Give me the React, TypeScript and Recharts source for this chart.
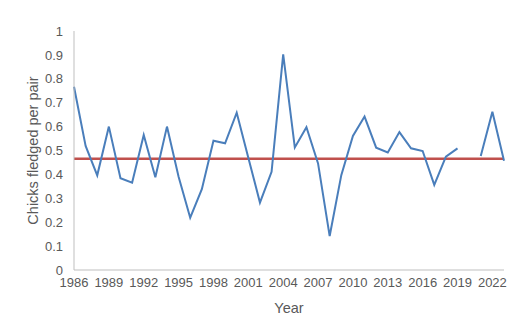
import React from "react";
import { LineChart, Line, XAxis, YAxis, ReferenceLine } from "recharts";

const years = [
  1986, 1987, 1988, 1989, 1990, 1991, 1992, 1993, 1994, 1995, 1996, 1997, 1998,
  1999, 2000, 2001, 2002, 2003, 2004, 2005, 2006, 2007, 2008, 2009, 2010, 2011,
  2012, 2013, 2014, 2015, 2016, 2017, 2018, 2019, 2020, 2021, 2022, 2023,
];
const chicksPerPair: (number | null)[] = [
  0.767, 0.519, 0.396, 0.6, 0.384, 0.365, 0.565, 0.388, 0.6, 0.39, 0.219, 0.338,
  0.541, 0.53, 0.658, 0.47, 0.282, 0.411, 0.902, 0.513, 0.597, 0.446, 0.142,
  0.397, 0.561, 0.642, 0.512, 0.492, 0.577, 0.509, 0.498, 0.356, 0.474, 0.509,
  null, 0.477, 0.662, 0.457,
];
const meanValue = 0.466;
const xTicks = [1986, 1989, 1992, 1995, 1998, 2001, 2004, 2007, 2010, 2013, 2016, 2019, 2022];
const yTicks = [0, 0.1, 0.2, 0.3, 0.4, 0.5, 0.6, 0.7, 0.8, 0.9, 1];

const data = years.map((y, i) => ({ year: y, value: chicksPerPair[i] }));

const font = "'Liberation Sans', Arial, sans-serif";

export default function App() {
  return (
    <div style={{ position: "absolute", left: 0, top: 0, width: 529, height: 324, background: "#fff" }}>
      <LineChart
        width={529}
        height={324}
        data={data}
        margin={{ top: 31, right: 25, bottom: 0, left: 0 }}
      >
        <XAxis
          dataKey="year"
          type="number"
          domain={[1986, 2023]}
          ticks={xTicks}
          interval={0}
          tickLine={false}
          axisLine={{ stroke: "#BFBFBF" }}
          height={54}
          tick={{ fill: "#595959", fontSize: 13, fontFamily: font }}
          tickMargin={2}
          label={{ value: "Year", position: "insideBottom", offset: 11, fill: "#595959", fontSize: 14.5, fontFamily: font }}
        />
        <YAxis
          type="number"
          domain={[0, 1]}
          ticks={yTicks}
          interval={0}
          tickLine={false}
          axisLine={{ stroke: "#BFBFBF" }}
          width={74}
          tick={{ fill: "#595959", fontSize: 13, fontFamily: font }}
          tickMargin={5}
          label={{ value: "Chicks fledged per pair", angle: -90, position: "insideLeft", offset: 33, fill: "#595959", fontSize: 14.5, fontFamily: font, style: { textAnchor: "middle" } }}
        />
        <ReferenceLine y={meanValue} stroke="#C0504D" strokeWidth={2.5} />
        <Line
          type="linear"
          dataKey="value"
          stroke="#4A7EBB"
          strokeWidth={2}
          dot={false}
          connectNulls={false}
          isAnimationActive={false}
        />
      </LineChart>
    </div>
  );
}
